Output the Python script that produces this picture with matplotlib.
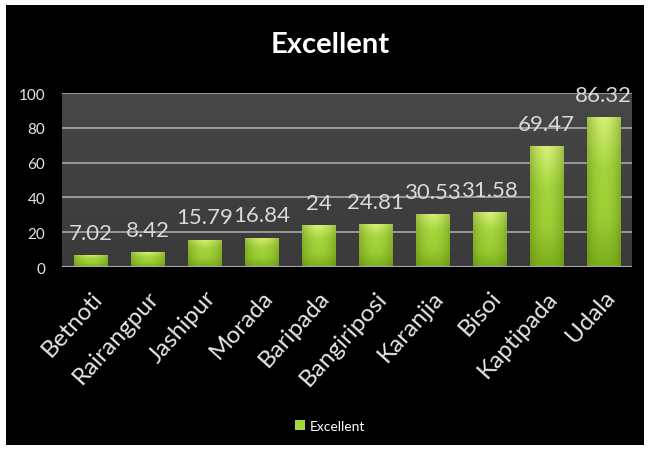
import matplotlib
matplotlib.use("Agg")
import matplotlib.pyplot as plt
import numpy as np
from matplotlib.patches import Rectangle

categories = ["Betnoti", "Rairangpur", "Jashipur", "Morada", "Baripada",
              "Bangiriposi", "Karanjia", "Bisoi", "Kaptipada", "Udala"]
values = [7.02, 8.42, 15.79, 16.84, 24, 24.81, 30.53, 31.58, 69.47, 86.32]
labels = ["7.02", "8.42", "15.79", "16.84", "24", "24.81", "30.53", "31.58", "69.47", "86.32"]
yticks = [0, 20, 40, 60, 80, 100]
series_name = "Excellent"

plt.rcParams['font.family'] = ['Lato', 'DejaVu Sans']

W, H = 650, 452
fig = plt.figure(figsize=(W / 100, H / 100), dpi=100)
fig.patch.set_facecolor("white")
fig.add_artist(Rectangle((6 / W, 1 - 446 / H), 638 / W, 440 / H,
                         transform=fig.transFigure, facecolor="black",
                         edgecolor="none", zorder=0))

ax = fig.add_axes([62 / W, 1 - 268 / H, 570 / W, 174 / H])
ax.set_facecolor("#3e3e3e")
grad = np.linspace(0, 1, 256).reshape(-1, 1)
ax.imshow(grad, extent=[-0.5, len(categories) - 0.5, 0, 100], aspect="auto",
          cmap=matplotlib.colors.LinearSegmentedColormap.from_list("bg", ["#3a3a3a", "#474747"]),
          origin="lower", zorder=0)

x = np.arange(len(categories))
bars = ax.bar(x, values, width=0.58, color="#8fbf2a", edgecolor="none", zorder=2)

bar_cmap = matplotlib.colors.LinearSegmentedColormap.from_list(
    "bar", ["#7aab1c", "#9ccf34", "#a6d63e", "#d9f27a"])
for b in bars:
    x0, w, h = b.get_x(), b.get_width(), b.get_height()
    img = ax.imshow(np.linspace(0, 1, 256).reshape(-1, 1),
                    extent=[x0, x0 + w, 0, h], aspect="auto", cmap=bar_cmap,
                    origin="lower", zorder=3)
    img.set_clip_path(b)
    hs = np.abs(np.linspace(-1, 1, 64)).reshape(1, -1)
    img2 = ax.imshow(hs, extent=[x0, x0 + w, 0, h], aspect="auto",
                     cmap=matplotlib.colors.LinearSegmentedColormap.from_list(
                         "sh", [(0.6, 0.8, 0.2, 0.0), (0.35, 0.5, 0.05, 0.45)]),
                     origin="lower", zorder=4)
    img2.set_clip_path(b)

for xi, v, lab in zip(x, values, labels):
    ax.annotate(lab, (xi, v), xytext=(0, 16), textcoords="offset points",
                ha="center", va="center", color="#d9d9d9", fontsize=16, zorder=6,
                annotation_clip=False)

ax.set_xlim(-0.5, len(categories) - 0.5)
ax.set_ylim(0, 100)
ax.set_yticks(yticks)
ax.set_yticklabels([str(t) for t in yticks], color="#e6e6e6", fontsize=11)
ax.yaxis.grid(True, color="#a8a8a8", linewidth=1.2, zorder=1)
ax.set_axisbelow(True)
ax.set_xticks(x)
ax.set_xticklabels(categories, rotation=48, ha="right", rotation_mode="anchor",
                   color="#e6e6e6", fontsize=17.5)
ax.tick_params(axis="x", length=0, pad=14)
ax.tick_params(axis="y", length=0, pad=12)
for s in ax.spines.values():
    s.set_visible(False)
ax.axhline(0, color="#a8a8a8", linewidth=1.5, zorder=5)

fig.text(330 / W, 1 - 45 / H, "Excellent", ha="center", va="center",
         color="white", fontsize=21, fontweight="bold")

leg = fig.legend([Rectangle((0, 0), 1, 1, facecolor="#a6d63e", edgecolor="none")],
                 [series_name], loc="center", bbox_to_anchor=(330 / W, 1 - 427 / H),
                 frameon=False, fontsize=10, handlelength=0.7, handleheight=0.7,
                 handletextpad=0.3)
for t in leg.get_texts():
    t.set_color("white")

fig.savefig("out.png", dpi=100, facecolor=fig.get_facecolor())
